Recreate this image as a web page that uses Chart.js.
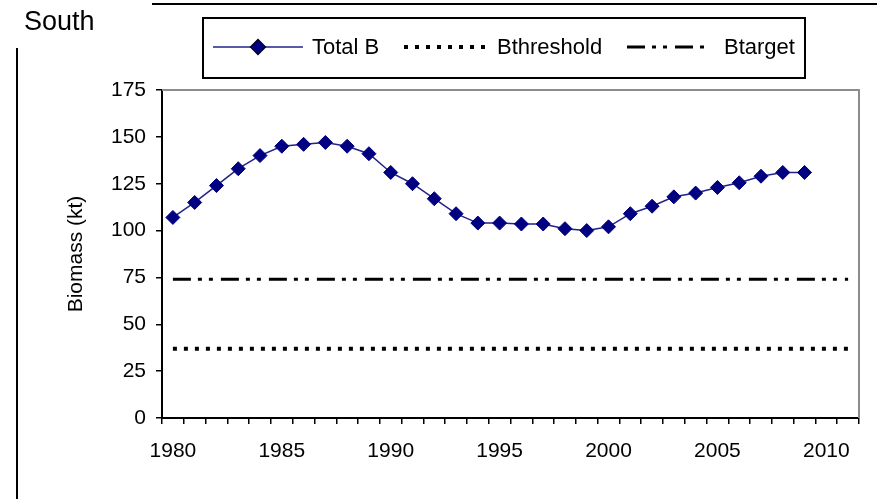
<!DOCTYPE html>
<html>
<head>
<meta charset="utf-8">
<script src="https://cdn.jsdelivr.net/npm/chart.js@4.4.1/dist/chart.umd.min.js"></script>
<style>
  html, body { margin: 0; padding: 0; background: #fff; }
  #wrap { width: 877px; height: 499px; }
</style>
</head>
<body>
<div id="wrap"><canvas id="biomassChart" width="877" height="499"></canvas></div>
<script>
// yillar (kategori ekseni 1980-2011)
var years = ['1980', '1981', '1982', '1983', '1984', '1985', '1986', '1987', '1988', '1989',
             '1990', '1991', '1992', '1993', '1994', '1995', '1996', '1997', '1998', '1999',
             '2000', '2001', '2002', '2003', '2004', '2005', '2006', '2007', '2008', '2009',
             '2010', '2011'];
var totalB = [107, 115, 124, 133, 140, 145, 146, 147, 145, 141,
              131, 125, 117, 109, 104, 104, 103.5, 103.5, 101, 100,
              102, 109, 113, 118, 120, 123, 125.5, 129, 131, 131];
var bThreshold = 37;
var bTarget = 74;
var yTicks = [0, 25, 50, 75, 100, 125, 150, 175];

var FONT = "'Liberation Sans', Arial, sans-serif";

// cerceve, baslik ve lejant
var decorPlugin = {
    id: 'decor',
    beforeDatasetsDraw: function(chart) {
        var ctx = chart.ctx, a = chart.chartArea;
        ctx.save();
        ctx.strokeStyle = '#8c8c8c';
        ctx.lineWidth = 2;
        ctx.beginPath();
        ctx.moveTo(a.left, a.top);
        ctx.lineTo(a.right, a.top);
        ctx.lineTo(a.right, a.bottom);
        ctx.stroke();
        ctx.restore();
    },
    afterDraw: function(chart) {
        var ctx = chart.ctx;
        var ds = chart.data.datasets;
        ctx.save();
        // ust cizgi ve sol cizgi
        ctx.strokeStyle = '#000';
        ctx.lineWidth = 2;
        ctx.beginPath();
        ctx.moveTo(152, 4); ctx.lineTo(877, 4);
        ctx.moveTo(17, 48); ctx.lineTo(17, 499);
        ctx.stroke();

        ctx.fillStyle = '#000';
        ctx.font = '27px ' + FONT;
        ctx.textBaseline = 'middle';
        ctx.fillText('South', 24, 23);

        // lejant kutusu
        ctx.lineWidth = 2;
        ctx.strokeRect(203, 18, 602, 60);
        var ly = 47;
        var items = [
            { ds: ds[0], x1: 213, x2: 303, tx: 312 },
            { ds: ds[1], x1: 404, x2: 486, tx: 497 },
            { ds: ds[2], x1: 627, x2: 710, tx: 724 }
        ];
        items.forEach(function(it) {
            ctx.save();
            ctx.strokeStyle = it.ds.borderColor;
            ctx.lineWidth = it.ds.borderWidth;
            ctx.setLineDash(it.ds.borderDash || []);
            ctx.beginPath();
            ctx.moveTo(it.x1, ly);
            ctx.lineTo(it.x2, ly);
            ctx.stroke();
            ctx.restore();
            if (it.ds.pointRadius) {
                Chart.helpers.drawPoint(ctx, {
                    pointStyle: it.ds.pointStyle,
                    radius: it.ds.pointRadius,
                    borderWidth: 1
                }, (it.x1 + it.x2) / 2, ly);
                ctx.fillStyle = it.ds.pointBackgroundColor;
                ctx.fill();
            }
            ctx.fillStyle = '#000';
            ctx.font = '22px ' + FONT;
            ctx.textBaseline = 'middle';
            ctx.fillText(it.ds.label, it.tx, ly + 1);
        });
        ctx.restore();
    }
};

var ctx1 = document.getElementById('biomassChart').getContext('2d');
var biomassChart = new Chart(ctx1, {
    type: 'line',
    data: {
        labels: years,
        datasets: [{
            label: 'Total B',
            data: totalB,
            borderColor: '#22228c',
            borderWidth: 1.5,
            pointStyle: 'rectRot',
            pointRadius: 7,
            pointBackgroundColor: '#000080',
            pointBorderColor: '#000080',
            pointBorderWidth: 1,
            tension: 0,
            order: 0
        }, {
            label: 'Bthreshold',
            data: years.map(function() { return bThreshold; }),
            borderColor: '#000',
            borderWidth: 4,
            borderDash: [4, 7],
            pointRadius: 0,
            order: 1
        }, {
            label: 'Btarget',
            data: years.map(function() { return bTarget; }),
            borderColor: '#000',
            borderWidth: 3,
            borderDash: [18, 7, 4, 7, 4, 8],
            pointRadius: 0,
            order: 2
        }]
    },
    options: {
        responsive: false,
        animation: false,
        events: [],
        layout: { padding: { left: 60, right: 18, top: 90, bottom: 0 } },
        plugins: {
            legend: { display: false },
            tooltip: { enabled: false }
        },
        scales: {
            x: {
                type: 'category',
                offset: true,
                grid: {
                    offset: true,
                    drawOnChartArea: false,
                    drawTicks: true,
                    tickLength: 6,
                    color: '#000',
                    lineWidth: 1.5
                },
                border: { color: '#000', width: 2 },
                ticks: {
                    autoSkip: false,
                    maxRotation: 0,
                    padding: 15,
                    color: '#000',
                    font: { family: FONT, size: 21 },
                    callback: function(v, i) {
                        var y = years[i];
                        return (+y) % 5 === 0 ? y : '';
                    }
                },
                afterFit: function(scale) { scale.height = 81; }
            },
            y: {
                min: 0,
                max: 175,
                afterBuildTicks: function(scale) {
                    scale.ticks = yTicks.map(function(v) { return { value: v }; });
                },
                grid: {
                    drawOnChartArea: false,
                    tickLength: 6,
                    color: '#000',
                    lineWidth: 1.5
                },
                border: { color: '#000', width: 2 },
                ticks: {
                    padding: 10,
                    color: '#000',
                    font: { family: FONT, size: 21 }
                },
                title: {
                    display: true,
                    text: 'Biomass (kt)',
                    color: '#000',
                    padding: { top: 4, bottom: 0 },
                    font: { family: FONT, size: 21 }
                },
                afterFit: function(scale) { scale.width = 102; }
            }
        }
    },
    plugins: [decorPlugin]
});
</script>
</body>
</html>
